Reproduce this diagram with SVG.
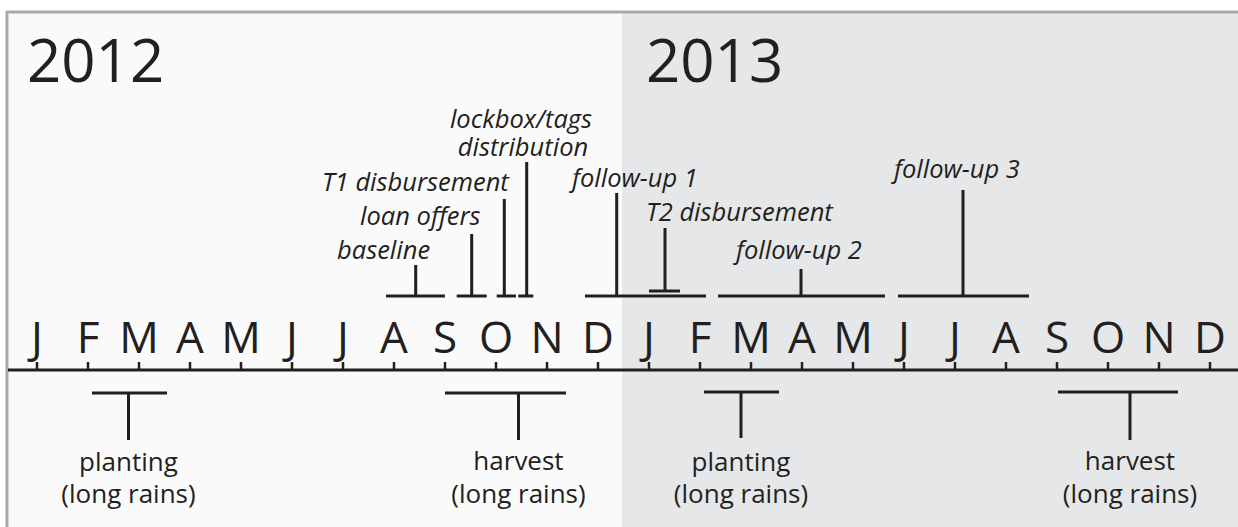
<svg xmlns="http://www.w3.org/2000/svg" width="1238" height="527" viewBox="0 0 1238 527">
<style>
.ln{stroke:#231f20;stroke-width:3;fill:none}
.tk{stroke:#231f20;stroke-width:2.5;fill:none}
.yr{font-family:"Open Sans","Noto Sans",sans-serif;font-size:60px;fill:#231f20}
.mo{font-family:"Open Sans","Noto Sans",sans-serif;font-size:44px;fill:#231f20;text-anchor:middle}
.ev{font-family:"Open Sans","Noto Sans",sans-serif;font-size:25.5px;font-style:italic;fill:#231f20}
.sn{font-family:"Open Sans","Noto Sans",sans-serif;font-size:26px;fill:#231f20;text-anchor:middle}
</style>
<rect x="0" y="0" width="1238" height="527" fill="#ffffff"/>
<rect x="7" y="12" width="615" height="520" fill="#fafafa"/>
<rect x="622" y="12" width="620" height="520" fill="#e6e7e8"/>
<rect x="7" y="12" width="1240" height="530" fill="none" stroke="#a7a9ac" stroke-width="3"/>
<g id="years">
<text class="yr" x="27" y="82">2012</text>
<text class="yr" x="646" y="82">2013</text>
</g>
<g id="axis">
<path class="ln" d="M8 370 H1238"/>
<path class="tk" d="M37 362V370M88 362V370M139 362V370M190 362V370M241 362V370M292 362V370M343 362V370M394 362V370M445 362V370M496 362V370M547 362V370M598 362V370M649 362V370M700 362V370M751 362V370M802 362V370M853 362V370M904 362V370M955 362V370M1006 362V370M1057 362V370M1108 362V370M1159 362V370M1210 362V370"/>
<text class="mo" y="353"><tspan x="37">J</tspan><tspan x="88">F</tspan><tspan x="139">M</tspan><tspan x="190">A</tspan><tspan x="241">M</tspan><tspan x="292">J</tspan><tspan x="343">J</tspan><tspan x="394">A</tspan><tspan x="445">S</tspan><tspan x="496">O</tspan><tspan x="547">N</tspan><tspan x="598">D</tspan><tspan x="649">J</tspan><tspan x="700">F</tspan><tspan x="751">M</tspan><tspan x="802">A</tspan><tspan x="853">M</tspan><tspan x="904">J</tspan><tspan x="955">J</tspan><tspan x="1006">A</tspan><tspan x="1057">S</tspan><tspan x="1108">O</tspan><tspan x="1159">N</tspan><tspan x="1210">D</tspan></text>
</g>
<g id="connectors">
<path class="ln" d="M386 296H445M415.7 265V296"/>
<path class="ln" d="M456.7 296H486.7M471.7 234V296"/>
<path class="ln" d="M496.7 296H516M504.3 199V296"/>
<path class="ln" d="M518.3 296H533.3M526.7 162V296"/>
<path class="ln" d="M585 296H706M616.7 193V296"/>
<path class="ln" d="M649 291H680M665 228V291"/>
<path class="ln" d="M718 296H885M801 269V296"/>
<path class="ln" d="M898 296H1029M963 190V296"/>
<path class="ln" d="M92 393H167M128.5 393V440"/>
<path class="ln" d="M445 393H566M518.5 393V440"/>
<path class="ln" d="M704 392H779M741 392V438"/>
<path class="ln" d="M1058 392H1178M1130 392V440"/>
</g>
<g id="ev-baseline"><text class="ev" x="337" y="259">baseline</text></g>
<g id="ev-loan"><text class="ev" x="360" y="225">loan offers</text></g>
<g id="ev-t1"><text class="ev" x="322" y="191">T1 disbursement</text></g>
<g id="ev-lockbox"><text class="ev" text-anchor="middle"><tspan x="521" y="128">lockbox/tags</tspan><tspan x="523" y="156">distribution</tspan></text></g>
<g id="ev-fu1"><text class="ev" x="572" y="187">follow-up 1</text></g>
<g id="ev-t2"><text class="ev" x="646" y="221">T2 disbursement</text></g>
<g id="ev-fu2"><text class="ev" x="736" y="259">follow-up 2</text></g>
<g id="ev-fu3"><text class="ev" x="894" y="178">follow-up 3</text></g>
<g id="season-plant-2012"><text class="sn"><tspan x="128.5" y="471">planting</tspan><tspan x="128.5" y="503">(long rains)</tspan></text></g>
<g id="season-harvest-2012"><text class="sn"><tspan x="518.5" y="470">harvest</tspan><tspan x="518.5" y="503">(long rains)</tspan></text></g>
<g id="season-plant-2013"><text class="sn"><tspan x="741" y="471">planting</tspan><tspan x="741" y="503">(long rains)</tspan></text></g>
<g id="season-harvest-2013"><text class="sn"><tspan x="1130" y="470">harvest</tspan><tspan x="1130" y="503">(long rains)</tspan></text></g>
</svg>
